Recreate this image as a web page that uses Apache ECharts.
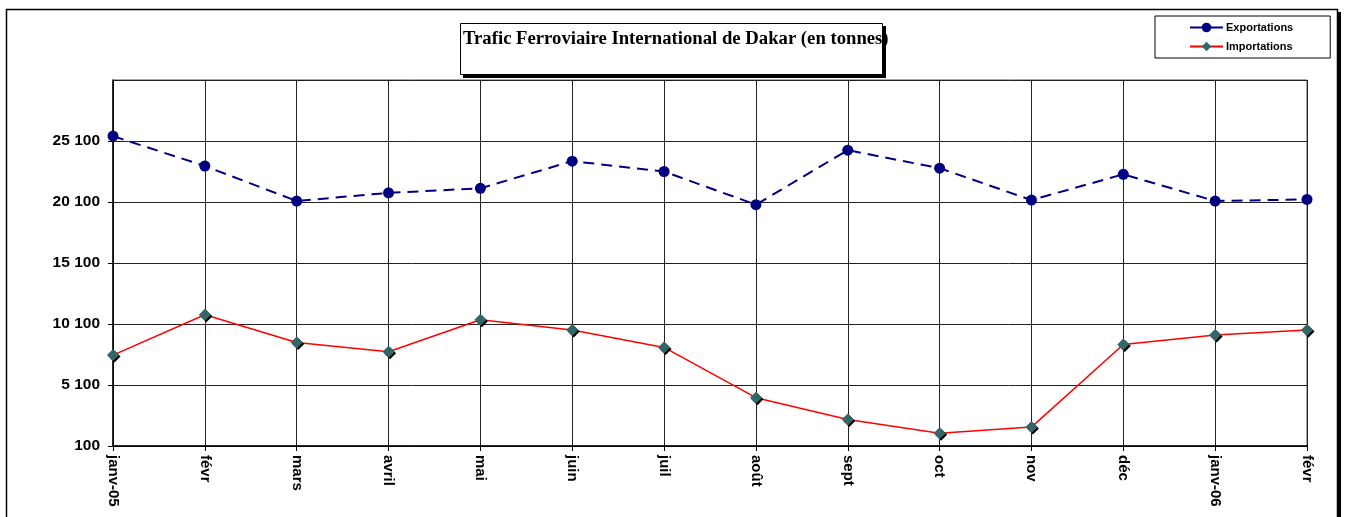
<!DOCTYPE html>
<html lang="fr">
<head>
<meta charset="UTF-8" />
<title>Trafic Ferroviaire International de Dakar</title>
<style>
  body { margin: 0; padding: 0; background: #fff; }
  #chart { width: 1347px; height: 517px; }
</style>
</head>
<body>
<div id="chart"></div>
<script src="https://cdn.jsdelivr.net/npm/echarts@6/dist/echarts.min.js"></script>
<script>
// mois
const months = ['janv-05', 'févr', 'mars', 'avril', 'mai', 'juin', 'juil', 'août', 'sept', 'oct', 'nov', 'déc', 'janv-06', 'févr'];
// tonnes
const exportations = [25500, 23050, 20180, 20850, 21220, 23450, 22600, 19880, 24350, 22870, 20260, 22370, 20180, 20310];
const importations = [7550, 10860, 8590, 7820, 10450, 9600, 8180, 4060, 2280, 1150, 1650, 8420, 9200, 9600];

const fmt = v => String(v).replace(/\B(?=(\d{3})+(?!\d))/g, ' ');
const sans = '"Liberation Sans", Arial, sans-serif';

const chart = echarts.init(document.getElementById('chart'));
chart.setOption({
  animation: false,
  backgroundColor: '#fff',
  graphic: [
    // cadre exterieur + ombre
    { type: 'rect', shape: { x: 9, y: 12, width: 1332, height: 530 }, style: { fill: '#000' }, z: -11 },
    { type: 'rect', shape: { x: 6.5, y: 9.5, width: 1331, height: 530 }, style: { fill: '#fff', stroke: '#000', lineWidth: 1.5 }, z: -10 },
    // cadre du titre
    { type: 'rect', shape: { x: 463, y: 26, width: 423, height: 52 }, style: { fill: '#000' }, z: 9 },
    { type: 'rect', shape: { x: 460.5, y: 23.5, width: 422, height: 51 }, style: { fill: '#fff', stroke: '#000', lineWidth: 1 }, z: 10 },
    {
      type: 'text',
      left: 463,
      top: 30,
      style: {
        text: 'Trafic Ferroviaire International de Dakar (en tonnes)',
        font: 'bold 18.7px "Liberation Serif", "Times New Roman", serif',
        fill: '#000'
      },
      z: 11
    }
  ],
  legend: {
    orient: 'vertical',
    left: 1155,
    top: 16,
    padding: [6, 37, 6, 34],
    itemGap: 8,
    itemWidth: 33,
    itemHeight: 12,
    borderColor: '#000',
    borderWidth: 1,
    backgroundColor: '#fff',
    textStyle: { fontFamily: sans, fontWeight: 'bold', fontSize: 11, color: '#000', padding: [0, 0, 0, -2] },
    data: [
      { name: 'Exportations', lineStyle: { type: 'solid' } },
      { name: 'Importations' }
    ]
  },
  grid: { left: 113, top: 80, width: 1194, height: 366, show: true, borderColor: '#555', borderWidth: 1 },
  xAxis: {
    type: 'category',
    data: months,
    boundaryGap: false,
    axisLine: { lineStyle: { color: '#000', width: 1.5 } },
    axisTick: { show: true, length: 5, alignWithLabel: true, lineStyle: { color: '#000' } },
    axisLabel: {
      rotate: -90,
      margin: 9,
      fontFamily: sans,
      fontWeight: 'bold',
      fontSize: 15,
      color: '#000'
    },
    splitLine: { show: true, lineStyle: { color: '#222', width: 1 } }
  },
  yAxis: {
    type: 'value',
    min: 100,
    max: 30100,
    interval: 5000,
    axisLine: { show: true, lineStyle: { color: '#000', width: 1.5 } },
    axisTick: { show: true, length: 5, lineStyle: { color: '#000' } },
    axisLabel: {
      showMaxLabel: false,
      margin: 13,
      formatter: fmt,
      fontFamily: sans,
      fontWeight: 'bold',
      fontSize: 15.5,
      color: '#000'
    },
    splitLine: { show: true, lineStyle: { color: '#222', width: 1 } }
  },
  series: [
    {
      name: 'Exportations',
      type: 'line',
      data: exportations,
      symbol: 'circle',
      symbolSize: 11,
      lineStyle: { color: '#000080', width: 2, type: [11, 7] },
      itemStyle: { color: '#000080', borderWidth: 0 },
      z: 3
    },
    {
      name: 'Importations',
      type: 'line',
      data: importations,
      symbol: 'diamond',
      symbolSize: 12,
      lineStyle: { color: '#ff0000', width: 1.5 },
      itemStyle: { color: '#336666', borderWidth: 0, shadowColor: '#000', shadowOffsetX: 1.5, shadowOffsetY: 1.5, shadowBlur: 0 },
      z: 3
    }
  ]
});
</script>
</body>
</html>
